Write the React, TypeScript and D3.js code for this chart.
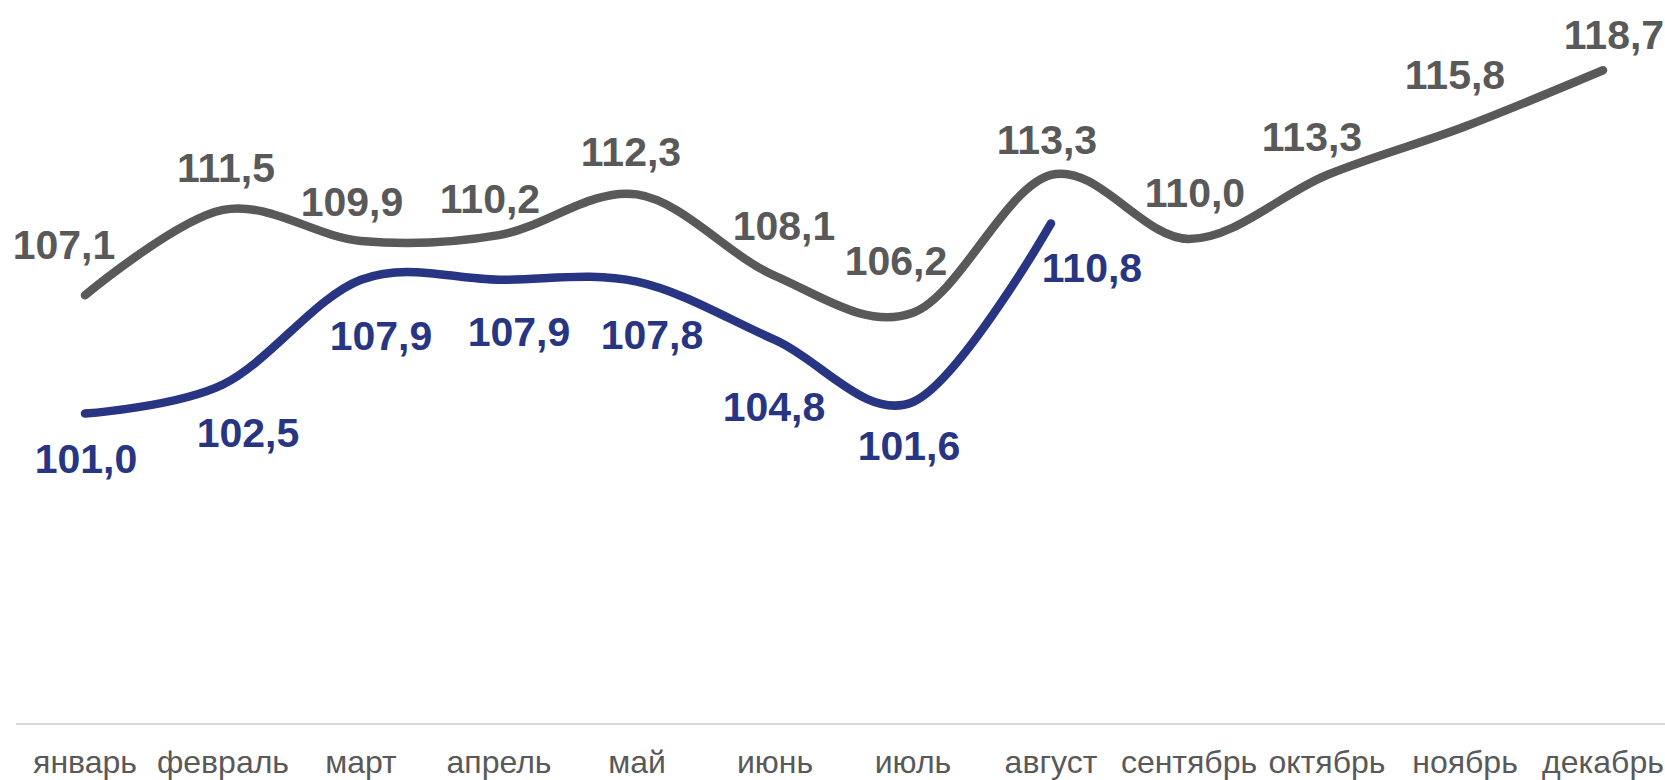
import React from "react";
import * as d3 from "d3";

const months = ["январь", "февраль", "март", "апрель", "май", "июнь", "июль", "август", "сентябрь", "октябрь", "ноябрь", "декабрь"];
const seriesPrev = [107.1, 111.5, 109.9, 110.2, 112.3, 108.1, 106.2, 113.3, 110.0, 113.3, 115.8, 118.7];
const seriesCurr = [101.0, 102.5, 107.9, 107.9, 107.8, 104.8, 101.6, 110.8];

// label offsets (layout, px) relative to each point
const prevLabelOffsets: [number, number][] = [[-21, -51], [3, -43], [-9, -40], [-9, -37], [-6, -43], [9, -51], [-17, -52], [-4, -36], [6, -47], [-15, -39], [-10, -52], [11, -36]];
const currLabelOffsets: [number, number][] = [[1, 45], [25, 48], [20, 55], [20, 51], [15, 53], [-1, 66], [-4, 43], [41, 44]];

const W = 1665;
const H = 780;
const GRAY = "#595959";
const BLUE = "#283583";

export default function App() {
  const x = d3.scaleBand<string>().domain(months).range([16, 1672]);
  const cx = (i: number) => (x(months[i]) as number) + x.bandwidth() / 2;
  const y = d3.scaleLinear().domain([85, 120]).range([724, 45]);
  const line = d3
    .line<number>()
    .x((_, i) => cx(i))
    .y((v) => y(v))
    .curve(d3.curveCardinal.tension(0));
  const fmt = (v: number) => v.toFixed(1).replace(".", ",");
  return (
    <svg width={W} height={H} style={{ position: "absolute", left: 0, top: 0, fontFamily: "'Liberation Sans', Arial, sans-serif" }}>
      <rect width={W} height={H} fill="#fff" />
      <line x1={16} x2={W} y1={724} y2={724} stroke="#d9d9d9" strokeWidth={2} />
      {months.map((m, i) => (
        <text key={m} x={cx(i)} y={773} textAnchor="middle" fontSize={32} fill={GRAY}>
          {m}
        </text>
      ))}
      <path d={line(seriesPrev) || ""} fill="none" stroke={GRAY} strokeWidth={8.5} strokeLinecap="round" />
      <path d={line(seriesCurr) || ""} fill="none" stroke={BLUE} strokeWidth={8.5} strokeLinecap="round" />
      {seriesPrev.map((v, i) => (
        <text key={"p" + i} x={cx(i) + prevLabelOffsets[i][0]} y={y(v) + prevLabelOffsets[i][1]} dy="0.36em" textAnchor="middle" fontSize={41} fontWeight="bold" fill={GRAY}>
          {fmt(v)}
        </text>
      ))}
      {seriesCurr.map((v, i) => (
        <text key={"c" + i} x={cx(i) + currLabelOffsets[i][0]} y={y(v) + currLabelOffsets[i][1]} dy="0.36em" textAnchor="middle" fontSize={41} fontWeight="bold" fill={BLUE}>
          {fmt(v)}
        </text>
      ))}
    </svg>
  );
}
